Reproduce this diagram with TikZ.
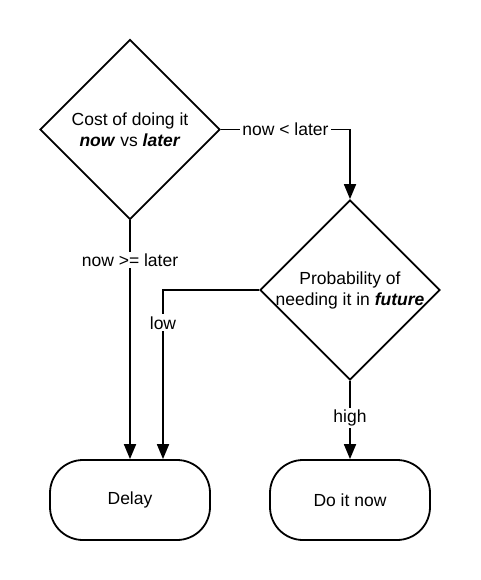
\documentclass[tikz,border=0pt]{standalone}
\usepackage{fontspec}
\setmainfont{Liberation Sans}
\usetikzlibrary{shapes.geometric,arrows.meta}
\begin{document}
\begin{tikzpicture}[x=1pt,y=-1pt,
  every node/.style={font=\fontsize{17.5pt}{21pt}\selectfont},
  dec/.style={draw, diamond, line width=1.8pt, minimum width=180pt, minimum height=180pt, inner sep=0pt},
  term/.style={draw, rectangle, rounded corners=33pt, line width=1.8pt, minimum width=160pt, minimum height=80pt, inner sep=0pt},
  conn/.style={line width=1.8pt, -{Triangle[length=15pt,width=12pt]}},
  lbl/.style={fill=white, inner sep=2pt}]
\useasboundingbox (0,0) rectangle (480,580);
\node[dec, label={[align=center, font=\fontsize{17.5pt}{21pt}\selectfont]center:Cost of doing it\\\textbf{\textit{now}} vs \textbf{\textit{later}}}] (d1) at (130,129.5) {};
\node[dec, label={[align=center, font=\fontsize{17.5pt}{21pt}\selectfont]center:Probability of\\needing it in \textbf{\textit{future}}}] (d2) at (350,290) {};
\node[term] (delay) at (130,500) {Delay};
\node[term] (donow) at (350,500) {Do it now};
\coordinate (lowin) at ([xshift=33pt]delay.north);
\draw[conn] (d1.east) -| node[lbl, pos=0.25] {now < later} (d2.north);
\draw[conn] (d1.south) -- node[lbl, pos=0.166] {now >= later} (delay.north);
\draw[conn] (d2.west) -| node[lbl, pos=0.597] {low} (lowin);
\draw[conn] (d2.south) -- node[lbl, pos=0.47] {high} (donow.north);
\end{tikzpicture}
\end{document}
